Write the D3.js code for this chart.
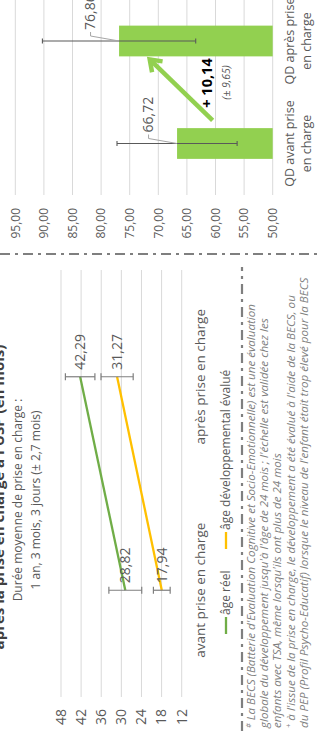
<!DOCTYPE html>
<html>
<head>
<meta charset="utf-8">
<script src="https://cdn.jsdelivr.net/npm/d3@7"></script>
<style>
  body { margin: 0; background: #fff; }
  svg { display: block; font-family: "Open Sans", sans-serif; }
</style>
</head>
<body>
<script>
// chart data
var ageCats = ["avant prise en charge", "après prise en charge"];
var ageReel = [28.82, 42.29];
var ageReelErr = [4.9, 4.4];
var ageDev = [17.94, 31.27];
var ageDevErr = [2.5, 4.8];
var ageTicks = [12, 18, 24, 30, 36, 42, 48];
var ageSeries = ["âge réel", "âge développemental évalué"];

var qdCats = ["QD avant prise\nen charge", "QD après prise\nen charge"];
var qdValues = [66.72, 76.86];
var qdErr = [10.5, 13.4];
var qdTicks = [50, 55, 60, 65, 70, 75, 80, 85, 90, 95];
var qdGain = "+ 10,14";
var qdGainSd = "(± 9,65)";

var titleText = "après la prise en charge à l'USP (en mois)";
var subtitle = ["Durée moyenne de prise en charge :", "1 an, 3 mois, 3 jours (± 2,7 mois)"];
var notes = [
  ["#", " La BECS (Batterie d'Evaluation Cognitive et Socio-Emotionnelle) est une évaluation"],
  ["", "globale du développement jusqu'à l'âge de 24 mois ; l'échelle est validée chez les"],
  ["", "enfants avec TSA, même lorsqu'ils ont plus de 24 mois"],
  ["+", " à l'issue de la prise en charge, le développement a été évalué à l'aide de la BECS, ou"],
  ["", "du PEP (Profil Psycho-Educatif) lorsque le niveau de l'enfant était trop élevé pour la BECS"]
];

var green = "#70ad47", yellow = "#ffc000", barGreen = "#92d050";
var grey = "#595959", grid = "#d9d9d9";

var fr = d3.formatLocale({decimal: ",", thousands: " ", grouping: [3], currency: ["", " €"]});
var f2 = fr.format(".2f");

// page is portrait, the slide is drawn landscape and turned a quarter left
var svg = d3.select("body").append("svg")
    .attr("width", 320)
    .attr("height", 731);
var g = svg.append("g")
    .attr("transform", "translate(0,731) rotate(-90)");

//////////
// LEFT : ages line chart
//////////
var x = d3.scalePoint().domain(ageCats).range([34, 461]).padding(0.5);
var y = d3.scaleLinear().domain([12, 48]).range([181.7, 61]);

g.selectAll(".agegrid")
  .data(ageTicks)
  .enter().append("line")
    .attr("x1", 34).attr("x2", 461)
    .attr("y1", function(d){ return y(d); })
    .attr("y2", function(d){ return y(d); })
    .attr("stroke", grid).attr("stroke-width", 1);

g.selectAll(".agetick")
  .data(ageTicks)
  .enter().append("text")
    .attr("x", 22)
    .attr("y", function(d){ return y(d); })
    .attr("dy", "0.35em")
    .attr("text-anchor", "end")
    .attr("font-size", "14px")
    .attr("fill", grey)
    .text(function(d){ return d; });

g.selectAll(".agecat")
  .data(ageCats)
  .enter().append("text")
    .attr("x", function(d){ return x(d); })
    .attr("y", 205)
    .attr("text-anchor", "middle")
    .attr("font-size", "13.5px")
    .attr("fill", grey)
    .text(function(d){ return d; });

var series = [
  {name: ageSeries[0], values: ageReel, err: ageReelErr, color: green},
  {name: ageSeries[1], values: ageDev, err: ageDevErr, color: yellow}
];

var line = d3.line()
    .x(function(d, i){ return x(ageCats[i]); })
    .y(function(d){ return y(d); });

series.forEach(function(s) {
  g.append("path")
    .attr("d", line(s.values))
    .attr("fill", "none")
    .attr("stroke", s.color)
    .attr("stroke-width", 2.3);

  s.values.forEach(function(v, i) {
    var cx = x(ageCats[i]);
    var eb = g.append("g").attr("stroke", "#7f7f7f").attr("stroke-width", 1.2);
    eb.append("line").attr("x1", cx).attr("x2", cx)
      .attr("y1", y(v - s.err[i])).attr("y2", y(v + s.err[i]));
    [v - s.err[i], v + s.err[i]].forEach(function(e) {
      eb.append("line").attr("x1", cx - 3.5).attr("x2", cx + 3.5)
        .attr("y1", y(e)).attr("y2", y(e));
    });
    g.append("text")
      .attr("x", cx + 7)
      .attr("y", y(v))
      .attr("dy", "0.35em")
      .attr("font-size", "14px")
      .attr("fill", grey)
      .text(f2(v));
  });
});

// legend
var legX = [97, 182];
series.forEach(function(s, i) {
  g.append("line")
    .attr("x1", legX[i]).attr("x2", legX[i] + 17)
    .attr("y1", 226).attr("y2", 226)
    .attr("stroke", s.color).attr("stroke-width", 2.3);
  g.append("text")
    .attr("x", legX[i] + 19)
    .attr("y", 226)
    .attr("dy", "0.35em")
    .attr("font-size", "12px")
    .attr("fill", grey)
    .text(s.name);
});

// title + subtitle
g.append("text")
  .attr("x", 234)
  .attr("y", 4)
  .attr("text-anchor", "middle")
  .attr("font-size", "15px")
  .attr("font-weight", "bold")
  .attr("fill", "#404040")
  .text(titleText);

g.selectAll(".sub")
  .data(subtitle)
  .enter().append("text")
    .attr("x", 231)
    .attr("y", function(d, i){ return 22 + i * 18; })
    .attr("text-anchor", "middle")
    .attr("font-size", "12px")
    .attr("fill", grey)
    .text(function(d){ return d; });

// footnotes
notes.forEach(function(n, i) {
  var t = g.append("text")
    .attr("x", 3)
    .attr("y", 254.5 + i * 13.4)
    .attr("font-size", "11.6px")
    .attr("font-style", "italic")
    .attr("fill", "#7f7f7f");
  if (n[0]) t.append("tspan").attr("font-size", "7.5px").attr("dy", "-3.5").text(n[0]);
  t.append("tspan").attr("dy", n[0] ? "3.5" : null).text(n[1]);
});

// dash-dot separators
g.append("line")
  .attr("x1", 0).attr("x2", 464).attr("y1", 242).attr("y2", 242)
  .attr("stroke", "#7f7f7f").attr("stroke-width", 2.2)
  .attr("stroke-dasharray", "10,5,3,5");
g.append("line")
  .attr("x1", 477).attr("x2", 477).attr("y1", 0).attr("y2", 320)
  .attr("stroke", "#7f7f7f").attr("stroke-width", 2.2)
  .attr("stroke-dasharray", "10,5,3,5");

//////////
// RIGHT : QD bar chart
//////////
var xq = d3.scaleBand().domain(qdCats).range([536.25, 741.25]).padding(0);
var yq = d3.scaleLinear().domain([50, 95]).range([272.7, 15.3]);
var barW = xq.bandwidth() * 0.3;

g.selectAll(".qdgrid")
  .data(qdTicks)
  .enter().append("line")
    .attr("x1", 536).attr("x2", 741)
    .attr("y1", function(d){ return yq(d); })
    .attr("y2", function(d){ return yq(d); })
    .attr("stroke", grid).attr("stroke-width", 1);

g.selectAll(".qdtick")
  .data(qdTicks)
  .enter().append("text")
    .attr("x", 523)
    .attr("y", function(d){ return yq(d); })
    .attr("dy", "0.35em")
    .attr("text-anchor", "end")
    .attr("font-size", "12px")
    .attr("fill", grey)
    .text(function(d){ return f2(d); });

g.selectAll(".bar")
  .data(qdValues)
  .enter().append("rect")
    .attr("x", function(d, i){ return xq(qdCats[i]) + xq.bandwidth() / 2 - barW / 2; })
    .attr("y", function(d){ return yq(d); })
    .attr("width", barW)
    .attr("height", function(d){ return yq(50) - yq(d); })
    .attr("fill", barGreen);

qdValues.forEach(function(v, i) {
  var cx = xq(qdCats[i]) + xq.bandwidth() / 2;
  var eb = g.append("g").attr("stroke", grey).attr("stroke-width", 1.1);
  eb.append("line").attr("x1", cx).attr("x2", cx)
    .attr("y1", yq(v - qdErr[i])).attr("y2", yq(v + qdErr[i]));
  [v - qdErr[i], v + qdErr[i]].forEach(function(e) {
    eb.append("line").attr("x1", cx - 2.5).attr("x2", cx + 2.5)
      .attr("y1", yq(e)).attr("y2", yq(e));
  });
  // leader line + label
  var ly = yq(v) - 28.5;
  g.append("path")
    .attr("d", "M" + cx + "," + yq(v) + "L" + (cx + 5) + "," + ly + "L" + (cx + 9) + "," + ly)
    .attr("fill", "none").attr("stroke", "#a6a6a6").attr("stroke-width", 1);
  g.append("text")
    .attr("x", cx + 11)
    .attr("y", ly)
    .attr("dy", "0.35em")
    .attr("font-size", "14px")
    .attr("fill", grey)
    .text(f2(v));

  var lines = qdCats[i].split("\n");
  lines.forEach(function(l, k) {
    g.append("text")
      .attr("x", cx)
      .attr("y", 294 + k * 17)
      .attr("text-anchor", "middle")
      .attr("font-size", "12.5px")
      .attr("fill", grey)
      .text(l);
  });
});

// gain arrow
var c0 = xq(qdCats[0]) + xq.bandwidth() / 2, c1 = xq(qdCats[1]) + xq.bandwidth() / 2;
var a0 = [c0 + barW * 0.75, yq(60.5)], a1 = [c1 - barW * 0.6, yq(71.5)];
var ang = Math.atan2(a0[1] - a1[1], a0[0] - a1[0]);
var hl = 13;
g.append("line")
  .attr("x1", a0[0]).attr("y1", a0[1]).attr("x2", a1[0]).attr("y2", a1[1])
  .attr("stroke", barGreen).attr("stroke-width", 4.5);
g.append("path")
  .attr("d", "M" + (a1[0] + hl * Math.cos(ang + 0.62)) + "," + (a1[1] + hl * Math.sin(ang + 0.62)) +
             "L" + a1[0] + "," + a1[1] +
             "L" + (a1[0] + hl * Math.cos(ang - 0.62)) + "," + (a1[1] + hl * Math.sin(ang - 0.62)))
  .attr("fill", "none").attr("stroke", barGreen).attr("stroke-width", 4.5)
  .attr("stroke-linejoin", "miter");

g.append("text")
  .attr("x", 648)
  .attr("y", 211.5)
  .attr("text-anchor", "middle")
  .attr("font-size", "14.5px")
  .attr("font-weight", "bold")
  .attr("fill", "#000")
  .text(qdGain);
g.append("text")
  .attr("x", 648.5)
  .attr("y", 230)
  .attr("text-anchor", "middle")
  .attr("font-size", "10.5px")
  .attr("font-style", "italic")
  .attr("fill", grey)
  .text(qdGainSd);
</script>
</body>
</html>
